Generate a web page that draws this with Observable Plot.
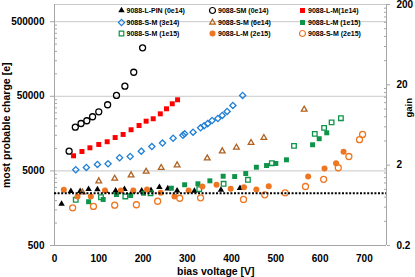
<!DOCTYPE html>
<html><head><meta charset="utf-8">
<script src="https://cdn.jsdelivr.net/npm/d3@7"></script>
<script src="https://cdn.jsdelivr.net/npm/@observablehq/plot@0.6"></script>
<style>
body{margin:0;background:#fff;font-family:"Liberation Sans",Arial,sans-serif;}
#wrap{position:relative;width:415px;height:277px;overflow:hidden;}
#wrap svg.chart{position:absolute;left:0;top:0;}
.lab{position:absolute;font-weight:bold;color:#000;white-space:nowrap;line-height:1;}
.leg{position:absolute;display:flex;align-items:center;font-size:7px;font-weight:bold;white-space:nowrap;line-height:1;color:#000;}
.leg svg{margin-right:1px;}
</style></head><body><div id="wrap"></div>
<script>
// ---- data ----
const xTicks = [0,100,200,300,400,500,600,700];
const yTicks = [500,5000,50000,500000];
const gainTicks = [0.2,2,20,200];
const refLevel = [2500];

const seriesNames = ["9088-L-PIN (0e14)","9088-SM (0e14)","9088-L-M(1e14)",
  "9088-S-M (3e14)","9088-S-M (6e14)","9088-L-M (1e15)",
  "9088-S-M (1e15)","9088-L-M (2e15)","9088-S-M (2e15)"];
const seriesColors = ["#000000","#000000","#ff0000","#1f7fd6","#b0601f","#0e9448","#0e9448","#ee7622","#ee7622"];
const seriesSymbols = ["triangle","circle","square","diamond2","triangle2","square","square2","circle","circle"];
const seriesFilled = [true,false,true,false,false,true,false,true,false];

const lpinV = [16,37,58,77,97,116,138,158,177,197,218,237,256,277,316,376,419];
const lpinC = [1800,2670,2670,2850,2820,2670,2720,2850,2670,2720,2750,3020,2900,2720,2700,2780,2930];
const sm0V = [33,47,60,73,86,100,120,140,159,179,199];
const sm0C = [9200,19300,21600,23500,26600,31000,38500,51300,68300,105000,223000];
const lm1e14V = [43,62,80,100,119,137,155,173,191,207,223,239,253,266,278];
const lm1e14C = [7970,9100,10200,11300,12300,14000,15400,17800,20300,23200,25000,29100,34000,39700,44900];
const sm3e14V = [48,72,97,121,147,171,196,220,244,268,290,294,313,330,338,346,356,369,379,390,403,425];
const sm3e14C = [5180,5560,6100,6230,7500,7800,9190,10600,11800,13700,15000,15700,16500,18900,20100,21500,23700,25200,27700,31300,37700,51300];
const sm6e14V = [63,100,136,173,207,241,277,345,379,411,444,473,564];
const sm6e14C = [2590,3640,3950,4380,4910,5510,5970,7400,9190,10300,11900,13900,33300];
const lm1e15V = [77,110,140,172,201,264,294,324,351,381,407,432,456,479,500,524,583,598,615];
const lm1e15C = [1930,2070,2410,2340,2510,2930,3260,3360,3680,4240,4200,4610,5600,5900,6290,7040,11200,13500,16200];
const sm1e15V = [48,105,160,217,327,382,437,491,541,588,609,626,647];
const sm1e15C = [2050,2220,2270,2510,2840,3360,3800,6340,10800,15700,18900,22400,25400];
const lm2e15V = [21,52,82,114,150,178,209,240,271,303,334,366,398,428,456,484,573,610,636,653];
const lm2e15C = [2790,2270,2270,2730,2730,2730,2820,2540,2270,2730,3090,3260,2880,3020,2820,3120,4200,5380,6340,9050];
const sm2e15V = [41,88,136,185,233,283,330,427,475,521,567,608,641,665,689,696];
const sm2e15C = [1600,1670,1735,1760,1960,2150,2180,2070,2390,2540,3090,3850,5510,7800,13100,15400];

const seriesV = [lpinV,sm0V,lm1e14V,sm3e14V,sm6e14V,lm1e15V,sm1e15V,lm2e15V,sm2e15V];
const seriesC = [lpinC,sm0C,lm1e14C,sm3e14C,sm6e14C,lm1e15C,sm1e15C,lm2e15C,sm2e15C];

// ---- layout ----
const W = 415, H = 277;
const yDomain = [500, 850000];
const xDomain = [0, 750];
const symbolR = {triangle:2.4, triangle2:2.7, circle:3, square:2.8, square2:2.9, diamond2:2.8};

// right (gain) axis: 0.2..200 spans full plot height
const logSpan = Math.log10(yDomain[1]/yDomain[0]);
const gainLo = gainTicks[0], gainHi = gainTicks[gainTicks.length-1];
const gainToC = g => yDomain[0]*Math.pow(10, Math.log10(g/gainLo)/Math.log10(gainHi/gainLo)*logSpan);
const gainPos = gainTicks.map(gainToC);
const gainMinor = [];
for (let d = gainLo; d < gainHi*0.99; d *= 10) for (let k = 2; k <= 9; k++) gainMinor.push(gainToC(d*k));
const leftMinor = [];
for (let d = yDomain[0]; d < yDomain[1]; d *= 10) for (let k = 2; k <= 9; k++) if (d*k < yDomain[1]) leftMinor.push(d*k);

const dotMarks = seriesV.map((vs,i) => {
  const data = vs.map((v,j)=>({v, c: seriesC[i][j]}));
  const sym = seriesSymbols[i];
  return Plot.dot(data, {
    x:"v", y:"c", symbol: () => sym, r: symbolR[sym],
    fill: seriesFilled[i] ? seriesColors[i] : "none",
    stroke: seriesFilled[i] ? "none" : seriesColors[i],
    strokeWidth: 1.3
  });
});

const axisGray = "#a6a6a6", gridGray = "#c8c8c8";
const tickFont = {fontSize: 10, fontWeight: "bold", fill: "#000"};
const chart = Plot.plot({
  width: W, height: H,
  marginLeft: 54, marginRight: 29, marginTop: 4, marginBottom: 32,
  style: {fontFamily: "Liberation Sans, Arial, sans-serif", background: "white"},
  x: {domain: xDomain, label: null},
  y: {type: "log", domain: yDomain, label: null},
  symbol: {type: "identity"},
  marks: [
    Plot.ruleY(yTicks.slice(1).concat([yDomain[1]]), {stroke: gridGray, strokeWidth: 1}),
    Plot.ruleX([xDomain[0], xDomain[1]], {stroke: axisGray}),
    Plot.ruleY([yDomain[0]], {stroke: axisGray}),
    Plot.axisY(leftMinor, {anchor: "left", tickSize: -3, text: null, stroke: axisGray, label: null}),
    Plot.axisY(yTicks, {anchor: "left", tickSize: 4, text: null, stroke: axisGray, label: null}),
    Plot.text(yTicks, {y: d => d, frameAnchor: "left", dx: -10, textAnchor: "end", text: d => String(d), ...tickFont}),
    Plot.axisY(gainMinor, {anchor: "right", tickSize: -3, text: null, stroke: axisGray, label: null}),
    Plot.axisY(gainPos, {anchor: "right", tickSize: 3, text: null, stroke: axisGray, label: null}),
    Plot.text(gainPos, {y: d => d, frameAnchor: "right", dx: 10, textAnchor: "start", text: (d,i) => String(gainTicks[i]), ...tickFont}),
    Plot.axisX(xTicks, {tickSize: 0, tickPadding: 9, label: null, ...tickFont}),
    ...dotMarks,
    Plot.ruleY(refLevel, {stroke: "#000", strokeWidth: 2, strokeDasharray: "2,1.6"})
  ]
});
chart.classList.add("chart");
const wrap = document.getElementById("wrap");
wrap.appendChild(chart);

// axis titles
function addLabel(text, x, y, size, rot) {
  const d = document.createElement("div");
  d.className = "lab";
  d.textContent = text;
  d.style.fontSize = size + "px";
  wrap.appendChild(d);
  const w = d.offsetWidth, h = d.offsetHeight;
  d.style.left = (x - w/2) + "px";
  d.style.top = (y - h/2) + "px";
  if (rot) d.style.transform = "rotate(" + rot + "deg)";
}
addLabel("bias voltage [V]", 216, 271, 10.5, 0);
addLabel("most probable charge [e]", 6, 125, 10.5, -90);
addLabel("gain", 409, 108, 9.5, -90);

// legend
const legCols = [121, 212.5, 302.5];
const legRows = [10.5, 22, 33.5];
const symMap = {triangle: d3.symbolTriangle, triangle2: d3.symbolTriangle2, circle: d3.symbolCircle,
                square: d3.symbolSquare, square2: d3.symbolSquare2, diamond2: d3.symbolDiamond2};
seriesNames.forEach((name, i) => {
  const col = i % 3, row = Math.floor(i / 3);
  const item = document.createElement("div");
  item.className = "leg";
  const sym = seriesSymbols[i];
  const r = symbolR[sym];
  const path = d3.symbol(symMap[sym], r*r*Math.PI)();
  const svgNS = "http://www.w3.org/2000/svg";
  const s = document.createElementNS(svgNS, "svg");
  s.setAttribute("width", 9); s.setAttribute("height", 9);
  s.setAttribute("viewBox", "-4.5 -4.5 9 9");
  const p = document.createElementNS(svgNS, "path");
  p.setAttribute("d", path);
  p.setAttribute("fill", seriesFilled[i] ? seriesColors[i] : "none");
  p.setAttribute("stroke", seriesFilled[i] ? "none" : seriesColors[i]);
  p.setAttribute("stroke-width", 1.2);
  s.appendChild(p);
  item.appendChild(s);
  const t = document.createElement("span");
  t.textContent = name;
  item.appendChild(t);
  item.style.left = (legCols[col] - 4.5) + "px";
  item.style.top = (legRows[row] - 4.5) + "px";
  wrap.appendChild(item);
});
</script>
</body></html>
